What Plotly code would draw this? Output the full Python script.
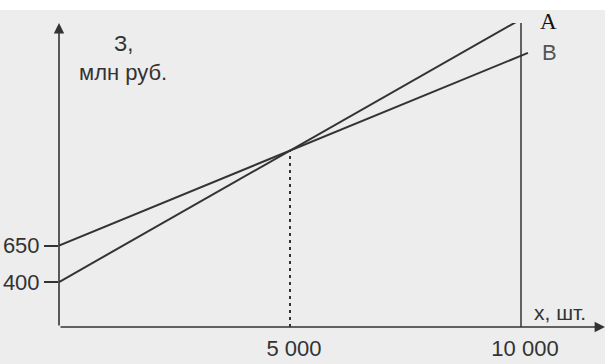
import plotly.graph_objects as go

# data
x_vals = [0, 10150]
fixed_A = 400
slope_A = 0.18
fixed_B = 650
slope_B = 0.13
series_names = ["A", "B"]
x_tick_vals = [5000, 10000]
x_tick_text = ["5 000", "10 000"]
y_tick_vals = [400, 650]
y_tick_text = ["400", "650"]
break_even_x = 5000
x_mark = 10000

yA = [fixed_A + slope_A * x for x in x_vals]
yB = [fixed_B + slope_B * x for x in x_vals]
be_y = fixed_A + slope_A * break_even_x
mark_yA = fixed_A + slope_A * x_mark

XR = [0, 11818]
YR = [92, 2174]
LC = "#333333"
FONT = "Liberation Sans, Arial, sans-serif"
FS = 22

fig = go.Figure()
fig.add_trace(go.Scatter(x=x_vals, y=yA, mode="lines", line=dict(color=LC, width=2), name="A", showlegend=False, cliponaxis=False))
fig.add_trace(go.Scatter(x=x_vals, y=yB, mode="lines", line=dict(color=LC, width=2), name="B", showlegend=False, cliponaxis=False))

# dashed vertical at break-even
fig.add_trace(go.Scatter(x=[break_even_x, break_even_x], y=[YR[0], be_y], mode="lines",
                         line=dict(color=LC, width=2, dash="3px,4px"), showlegend=False))
# solid vertical at 10000
fig.add_trace(go.Scatter(x=[x_mark, x_mark], y=[YR[0], mark_yA], mode="lines",
                         line=dict(color=LC, width=1.5), showlegend=False))

# axes with arrows
fig.add_annotation(x=0, y=YR[1], ax=0, ay=YR[0], xref="x", yref="y", axref="x", ayref="y",
                   text="", showarrow=True, arrowhead=2, arrowsize=1.3, arrowwidth=1.6, arrowcolor=LC)
fig.add_annotation(x=XR[1], y=YR[0], ax=0, ay=YR[0], xref="x", yref="y", axref="x", ayref="y",
                   text="", showarrow=True, arrowhead=2, arrowsize=1.3, arrowwidth=1.6, arrowcolor=LC)

# labels (pixel positions, converted below)
fig.add_annotation(x=112, y=44, xref="paper", yref="paper", text="З,", showarrow=False,
                   xanchor="left", yanchor="middle", font=dict(family=FONT, size=FS, color="#333"))
fig.add_annotation(x=77, y=72, xref="paper", yref="paper", text="млн руб.", showarrow=False,
                   xanchor="left", yanchor="middle", font=dict(family=FONT, size=FS, color="#333"))
fig.add_annotation(x=532, y=312, xref="paper", yref="paper", text="х, шт.", showarrow=False,
                   xanchor="left", yanchor="middle", font=dict(family=FONT, size=FS - 1, color="#333"))
fig.add_annotation(x=538, y=22, xref="paper", yref="paper", text=series_names[0], showarrow=False,
                   xanchor="left", yanchor="middle", font=dict(family="Liberation Serif, Times New Roman, serif", size=23, color="#111"))
fig.add_annotation(x=540, y=52, xref="paper", yref="paper", text=series_names[1], showarrow=False,
                   xanchor="left", yanchor="middle", font=dict(family=FONT, size=22, color="#555"))

L, T, W, H = 59, 23, 546, 304
for a in fig.layout.annotations:
    if a.xref == "paper":
        px, py = a.x, a.y
        a.x = (px - L) / W
        a.y = 1 - (py - T) / H

# white strip at top of scan
fig.add_shape(type="rect", xref="paper", yref="paper", x0=-L / W, x1=1.0, y0=1 + (T - 10) / H, y1=1 + T / H,
              fillcolor="white", line=dict(width=0), layer="below")

fig.update_layout(
    width=605, height=364,
    margin=dict(l=L, r=0, t=T, b=364 - T - H, autoexpand=False),
    paper_bgcolor="#ededed", plot_bgcolor="rgba(0,0,0,0)",
    font=dict(family=FONT, size=FS, color="#333"),
    xaxis=dict(range=XR, showgrid=False, zeroline=False, showline=False, automargin=False,
               tickvals=x_tick_vals, ticktext=x_tick_text, ticks="outside", ticklen=2,
               ticklabelshift=4,
               tickcolor="rgba(0,0,0,0)", tickfont=dict(size=FS, color="#333")),
    yaxis=dict(range=YR, showgrid=False, zeroline=False, showline=False, automargin=False,
               tickvals=y_tick_vals, ticktext=y_tick_text, ticks="outside", ticklen=14,
               tickwidth=1.5, tickcolor=LC, tickfont=dict(size=FS, color="#333")),
)

fig.write_html("out.html", config={"displayModeBar": False},
               post_script="document.body.style.margin='0';document.body.style.background='#ededed';")
